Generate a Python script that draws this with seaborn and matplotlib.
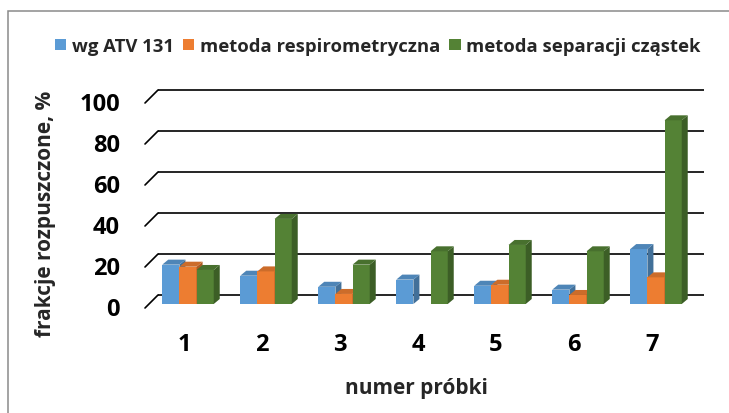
import numpy as np
import pandas as pd
import seaborn as sns
import matplotlib
matplotlib.use("Agg")
import matplotlib.pyplot as plt
from matplotlib.patches import Polygon, Rectangle
from matplotlib.transforms import offset_copy
from matplotlib.colors import to_rgb

# ---- data ----
samples = ["1", "2", "3", "4", "5", "6", "7"]
series = ["wg ATV 131", "metoda respirometryczna", "metoda separacji cząstek"]
atv = [19.2, 13.8, 8.4, 11.9, 8.9, 7.0, 26.8]
resp = [18.2, 15.9, 4.9, 0.0, 9.4, 4.4, 13.0]
sep = [16.6, 41.5, 19.2, 25.7, 28.8, 25.7, 89.6]
yticks = [0, 20, 40, 60, 80, 100]
colors = ["#5B9BD5", "#ED7D31", "#548235"]
xlabel = "numer próbki"
ylabel = "frakcje rozpuszczone, %"

sns.set_style("white")
plt.rcParams["font.family"] = ["Open Sans", "DejaVu Sans"]

df = pd.DataFrame({
    "próbka": samples * 3,
    "wartość": atv + resp + sep,
    "metoda": [s for s in series for _ in samples],
})

W, H = 729, 414
fig = plt.figure(figsize=(W / 100, H / 100), dpi=100)
ax = fig.add_axes([149 / W, (H - 305) / H, 546 / W, 205 / H])

sns.barplot(data=df, x="próbka", y="wartość", hue="metoda", order=samples,
            hue_order=series, palette=colors, width=0.66, saturation=1,
            linewidth=0, ax=ax)
handles, labels = ax.get_legend_handles_labels()
ax.get_legend().remove()

ax.set_xlim(-0.5, len(samples) - 0.5)
ax.set_ylim(0, 100)
for s in ax.spines.values():
    s.set_visible(False)
ax.set_xticks([])
ax.set_yticks([])
ax.set_xlabel("")
ax.set_ylabel("")
ax.patch.set_alpha(0)

wpx = ax.bbox.width
hpx = ax.bbox.height
xr = len(samples)
# depth of floor / walls (px)
front, back = 4, 9
ytr = ax.get_yaxis_transform()
back_tr = offset_copy(ytr, fig=fig, x=back, y=back, units="dots")
for v in yticks:
    ax.plot([0, 1], [v, v], transform=back_tr, color="black", lw=1.2,
            zorder=1, clip_on=False, solid_capstyle="butt")
    ax.plot([-front / wpx, back / wpx],
            [v - front * 100 / hpx, v + back * 100 / hpx],
            transform=ytr, color="black", lw=1.2, zorder=1, clip_on=False)

# 3D faces of bars
ddx = 6 * xr / wpx
ddy = 5 * 100 / hpx
bars = [p for p in ax.patches if isinstance(p, Rectangle)]
for p in bars:
    x0, w, h = p.get_x(), p.get_width(), p.get_height()
    z = 3 + 0.1 * (x0 + 1)
    p.set_zorder(z)
    if h <= 0:
        continue
    rgb = np.array(to_rgb(p.get_facecolor()))
    side = Polygon([(x0 + w, 0), (x0 + w + ddx, ddy), (x0 + w + ddx, h + ddy), (x0 + w, h)],
                   closed=True, facecolor=rgb * 0.72, edgecolor="none", zorder=z, clip_on=False)
    top = Polygon([(x0, h), (x0 + ddx, h + ddy), (x0 + w + ddx, h + ddy), (x0 + w, h)],
                  closed=True, facecolor=rgb * 0.86, edgecolor="none", zorder=z, clip_on=False)
    ax.add_patch(side)
    ax.add_patch(top)

# tick labels on the front plane
ytick_tr = offset_copy(ytr, fig=fig, x=-29, y=-5, units="dots")
for v in yticks:
    ax.text(0, v, str(v), transform=ytick_tr, ha="right", va="center",
            fontsize=17, fontweight="bold", color="black")
xtick_tr = offset_copy(ax.get_xaxis_transform(), fig=fig, x=-4, y=-40, units="dots")
for i, s in enumerate(samples):
    ax.text(i, 0, s, transform=xtick_tr, ha="center", va="center",
            fontsize=17, fontweight="bold", color="black")

fig.text(416 / W, 1 - 389 / H, xlabel, ha="center", va="center",
         fontsize=15, fontweight="bold")
fig.text(46 / W, 1 - 214 / H, ylabel, ha="center", va="center", rotation=90,
         fontsize=15, fontweight="bold")

fig.legend(handles, labels, loc="center", bbox_to_anchor=(378 / W, 1 - 47 / H),
           ncol=3, frameon=False, prop={"size": 13.3, "weight": "bold"},
           handlelength=0.6, handleheight=0.6, handletextpad=0.3,
           columnspacing=0.5, borderaxespad=0)

fig.add_artist(Rectangle((8 / W, -0.1), 1.5, 1 - 12 / H + 0.1,
                         transform=fig.transFigure, fill=False,
                         edgecolor="#8a8a8a", lw=1.1))

fig.savefig("out.png", dpi=100)
